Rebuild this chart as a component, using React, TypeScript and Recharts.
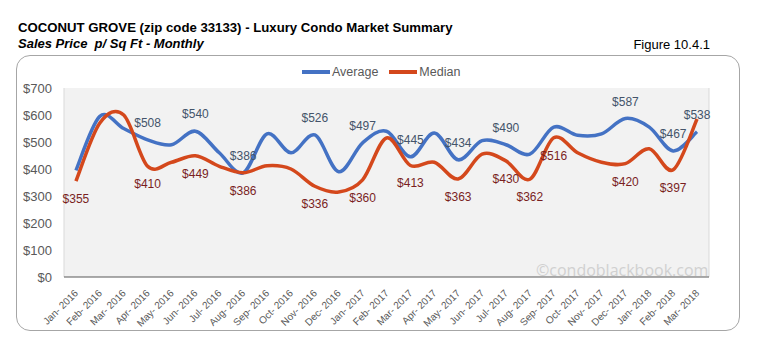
import React from "react";
import { LineChart, Line, XAxis, YAxis, CartesianGrid, LabelList } from "recharts";

const months = [
  "Jan- 2016", "Feb- 2016", "Mar- 2016", "Apr- 2016", "May- 2016", "Jun- 2016", "Jul- 2016", "Aug- 2016", "Sep- 2016",
  "Oct- 2016", "Nov- 2016", "Dec- 2016", "Jan- 2017", "Feb- 2017", "Mar- 2017", "Apr- 2017", "May- 2017", "Jun- 2017",
  "Jul- 2017", "Aug- 2017", "Sep- 2017", "Oct- 2017", "Nov- 2017", "Dec- 2017", "Jan- 2018", "Feb- 2018", "Mar- 2018",
];

const averageValues = [
  395, 595, 550, 508, 490, 540, 460, 386, 530, 460, 526, 390, 497, 540, 445, 533, 434, 505, 490, 455, 555, 525, 530, 587, 555, 467, 538,
];

const medianValues = [
  355, 570, 600, 410, 425, 449, 410, 386, 412, 400, 336, 315, 360, 515, 413, 425, 363, 455, 430, 362, 516, 460, 425, 420, 475, 397, 585,
];

const averageLabeled = [3, 5, 7, 10, 12, 14, 16, 18, 23, 25, 26];
const medianLabeled = [0, 3, 5, 7, 10, 12, 14, 16, 18, 19, 20, 23, 25];

const yTicks = [0, 100, 200, 300, 400, 500, 600, 700];

const data = months.map((m, i) => ({
  idx: i,
  month: m,
  average: averageValues[i],
  median: medianValues[i],
}));

const boundaryTicks = Array.from({ length: months.length + 1 }, (_, i) => i - 0.5);
const centerTicks = months.map((_, i) => i);

const FONT = "'Liberation Sans', Arial, sans-serif";
const AVG_COLOR = "#4472c4";
const MED_COLOR = "#d4481c";

// Catmull-Rom style smoothing, similar to spreadsheet "smoothed line"
const smoothCurve = (context: any) => {
  let pts: number[][] = [];
  return {
    areaStart() {},
    areaEnd() {},
    lineStart() {
      pts = [];
    },
    point(x: number, y: number) {
      pts.push([+x, +y]);
    },
    lineEnd() {
      const n = pts.length;
      if (!n) return;
      context.moveTo(pts[0][0], pts[0][1]);
      const k = 1 / 6;
      for (let i = 0; i < n - 1; i++) {
        const p0 = pts[i - 1] || pts[i];
        const p1 = pts[i];
        const p2 = pts[i + 1];
        const p3 = pts[i + 2] || p2;
        context.bezierCurveTo(
          p1[0] + (p2[0] - p0[0]) * k,
          p1[1] + (p2[1] - p0[1]) * k,
          p2[0] - (p3[0] - p1[0]) * k,
          p2[1] - (p3[1] - p1[1]) * k,
          p2[0],
          p2[1]
        );
      }
    },
  };
};

const makeLabel = (labeled: number[], color: string, dy: number) => (props: any) => {
  const { x, y, index, value } = props;
  if (!labeled.includes(index)) return null;
  return (
    <text x={x} y={y + dy} textAnchor="middle" dominantBaseline="central" fill={color} fontSize={12} fontFamily={FONT}>
      {"$" + value}
    </text>
  );
};

const XTick = (props: any) => {
  const { x, y, payload } = props;
  return (
    <text
      x={x}
      y={y}
      transform={`rotate(-45, ${x}, ${y})`}
      textAnchor="end"
      fontSize={10}
      fill="#595959"
      fontFamily={FONT}
      dy={4}
    >
      {months[payload.value]}
    </text>
  );
};

const LegendItem = ({ color, label }: { color: string; label: string }) => (
  <div style={{ display: "flex", alignItems: "center", marginRight: 11 }}>
    <div style={{ width: 28, height: 3.5, background: color, marginRight: 2 }} />
    <span style={{ color: "#595959", fontSize: 12.5 }}>{label}</span>
  </div>
);

export default function App() {
  return (
    <div style={{ position: "absolute", left: 0, top: 0, width: 758, height: 354, background: "#fff", fontFamily: FONT }}>
      <div style={{ position: "absolute", left: 18, top: 20, fontSize: 13.2, fontWeight: "bold", color: "#000" }}>
        COCONUT GROVE (zip code 33133) - Luxury Condo Market Summary
      </div>
      <div style={{ position: "absolute", left: 18, top: 36, fontSize: 13, fontWeight: "bold", fontStyle: "italic", color: "#000", whiteSpace: "pre" }}>
        {"Sales Price  p/ Sq Ft - Monthly"}
      </div>
      <div style={{ position: "absolute", right: 48, top: 37, fontSize: 13, color: "#000" }}>Figure 10.4.1</div>
      <div
        style={{
          position: "absolute",
          left: 16,
          top: 55,
          width: 724,
          height: 276,
          border: "1px solid #a6a6a6",
          borderRadius: 14,
          boxSizing: "border-box",
        }}
      />
      <div style={{ position: "absolute", left: 302, top: 65, display: "flex" }}>
        <LegendItem color={AVG_COLOR} label="Average" />
        <LegendItem color={MED_COLOR} label="Median" />
      </div>
      <div style={{ position: "absolute", left: 0, top: 0 }}>
        <LineChart width={758} height={354} data={data} margin={{ top: 88, right: 49, bottom: 11, left: 14 }}>
          <CartesianGrid horizontal={false} vertical={true} stroke="#d9d9d9" fill="#f2f2f2" />
          <XAxis
            xAxisId={0}
            type="number"
            dataKey="idx"
            domain={[-0.5, months.length - 0.5]}
            ticks={boundaryTicks}
            interval={0}
            tick={false}
            tickSize={5}
            height={6}
            axisLine={{ stroke: "#595959" }}
            tickLine={{ stroke: "#595959" }}
          />
          <XAxis
            xAxisId={1}
            type="number"
            dataKey="idx"
            domain={[-0.5, months.length - 0.5]}
            ticks={centerTicks}
            interval={0}
            height={60}
            axisLine={false}
            tickLine={false}
            tick={<XTick />}
          />
          <YAxis
            domain={[0, 700]}
            ticks={yTicks}
            interval={0}
            width={50}
            axisLine={false}
            tickLine={false}
            tickSize={0}
            tickMargin={12}
            tickFormatter={(v: number) => "$" + v}
            tick={{ fill: "#595959", fontSize: 13, fontFamily: FONT }}
          />
          <Line
            type={smoothCurve as any}
            dataKey="average"
            name="Average"
            stroke={AVG_COLOR}
            strokeWidth={3.5}
            dot={false}
            isAnimationActive={false}
          >
            <LabelList dataKey="average" content={makeLabel(averageLabeled, "#44546a", -17)} />
          </Line>
          <Line
            type={smoothCurve as any}
            dataKey="median"
            name="Median"
            stroke={MED_COLOR}
            strokeWidth={3.5}
            dot={false}
            isAnimationActive={false}
          >
            <LabelList dataKey="median" content={makeLabel(medianLabeled, "#7a1f1f", 18)} />
          </Line>
        </LineChart>
      </div>
      <div
        style={{
          position: "absolute",
          left: 536,
          top: 259,
          fontSize: 16,
          color: "#d0d0d0",
          fontFamily: "'Open Sans', sans-serif",
          pointerEvents: "none",
        }}
      >
        ©condoblackbook.com
      </div>
    </div>
  );
}
